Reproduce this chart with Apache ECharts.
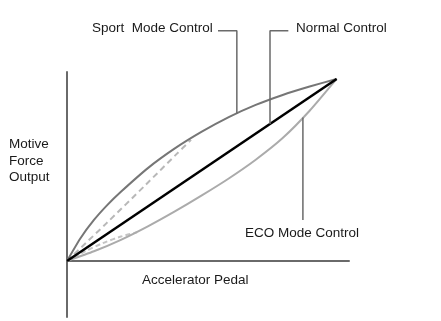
<!DOCTYPE html>
<html>
<head>
<meta charset="utf-8">
<script src="https://cdn.jsdelivr.net/npm/echarts@6/dist/echarts.min.js"></script>
<style>html,body{margin:0;padding:0;background:#fff;}#c{width:441px;height:321px;}</style>
</head>
<body>
<div id="c"></div>
<script>
// Normalised values: pedal position (0-100) vs motive force (0-100)
const sportX = [0, 5, 10, 15, 20, 30, 40, 50, 60, 70, 80, 90, 100];
const sportY = [0, 12.5, 22.5, 30.8, 38, 51, 61.8, 71, 79, 85.7, 91.2, 95.8, 100];
const sportDashX = [0, 14.5, 29.3, 40.7, 46];
const sportDashY = [0, 20.5, 42, 58.8, 66.5];
const normalX = [0, 100];
const normalY = [0, 100];
const ecoX = [0, 10, 20, 30, 40, 50, 60, 70, 80, 90, 100];
const ecoY = [0, 5.3, 11.6, 19.0, 27.2, 36.0, 45.3, 55.6, 67.5, 82.5, 100];
const ecoDashX = [0, 6.7, 13.3, 20, 26];
const ecoDashY = [0, 5.2, 9.8, 13.4, 15.8];
// leader-line anchors (data coords)
const sportLeader = [[63.0, 81.0], [63.0, 126.5], [56.0, 126.5]];
const normalLeader = [[75.3, 75.3], [75.3, 126.5], [82.1, 126.5]];
const ecoLeader = [[87.5, 78.8], [87.5, 22.5]];
const labels = {
  sport: 'Sport  Mode Control',
  normal: 'Normal Control',
  eco: 'ECO Mode Control',
  x: 'Accelerator Pedal',
  y: 'Motive\nForce\nOutput'
};

const zip = (xs, ys) => xs.map((x, i) => [x, ys[i]]);
const font = '"Liberation Sans", Arial, sans-serif';
const txt = (text, left, top) => ({
  type: 'text', left: left, top: top,
  style: { text: text, font: '13.5px ' + font, fill: '#1a1a1a', lineHeight: 16.7 }
});

const chart = echarts.init(document.getElementById('c'), null, { renderer: 'canvas' });
const lineBase = { type: 'line', showSymbol: false, symbol: 'none', clip: false, silent: true };
chart.setOption({
  animation: false,
  backgroundColor: '#fff',
  grid: { left: 67, right: 92, top: 72, bottom: 4 },
  xAxis: {
    type: 'value', min: 0, max: 104.6,
    axisLine: { show: true, onZero: true, lineStyle: { color: '#6a6a6a', width: 2 } },
    axisTick: { show: false }, axisLabel: { show: false }, splitLine: { show: false }
  },
  yAxis: {
    type: 'value', min: -30.8, max: 103.8,
    axisLine: { show: true, onZero: false, lineStyle: { color: '#6a6a6a', width: 2 } },
    axisTick: { show: false }, axisLabel: { show: false }, splitLine: { show: false }
  },
  series: [
    Object.assign({}, lineBase, { name: 'ECO dashed', data: zip(ecoDashX, ecoDashY), smooth: 0.3,
      lineStyle: { color: '#c4c4c4', width: 2, type: [5, 3] } }),
    Object.assign({}, lineBase, { name: 'ECO Mode Control', data: zip(ecoX, ecoY), smooth: 0.2,
      lineStyle: { color: '#ababab', width: 2 } }),
    Object.assign({}, lineBase, { name: 'Sport dashed', data: zip(sportDashX, sportDashY), smooth: 0.3,
      lineStyle: { color: '#b8b8b8', width: 2, type: [6, 4] } }),
    Object.assign({}, lineBase, { name: 'Sport Mode Control', data: zip(sportX, sportY), smooth: 0.2,
      lineStyle: { color: '#767676', width: 2 } }),
    Object.assign({}, lineBase, { name: 'Normal Control', data: zip(normalX, normalY),
      lineStyle: { color: '#000', width: 2.5 } }),
    Object.assign({}, lineBase, { name: 'sportLeader', data: sportLeader,
      lineStyle: { color: '#6a6a6a', width: 1.5 } }),
    Object.assign({}, lineBase, { name: 'normalLeader', data: normalLeader,
      lineStyle: { color: '#6a6a6a', width: 1.5 } }),
    Object.assign({}, lineBase, { name: 'ecoLeader', data: ecoLeader,
      lineStyle: { color: '#6a6a6a', width: 1.5 } })
  ],
  graphic: [
    txt(labels.sport, 92, 20),
    txt(labels.normal, 296, 20),
    txt(labels.eco, 245, 225),
    txt(labels.x, 142, 272),
    txt(labels.y, 9, 136)
  ]
});
</script>
</body>
</html>
